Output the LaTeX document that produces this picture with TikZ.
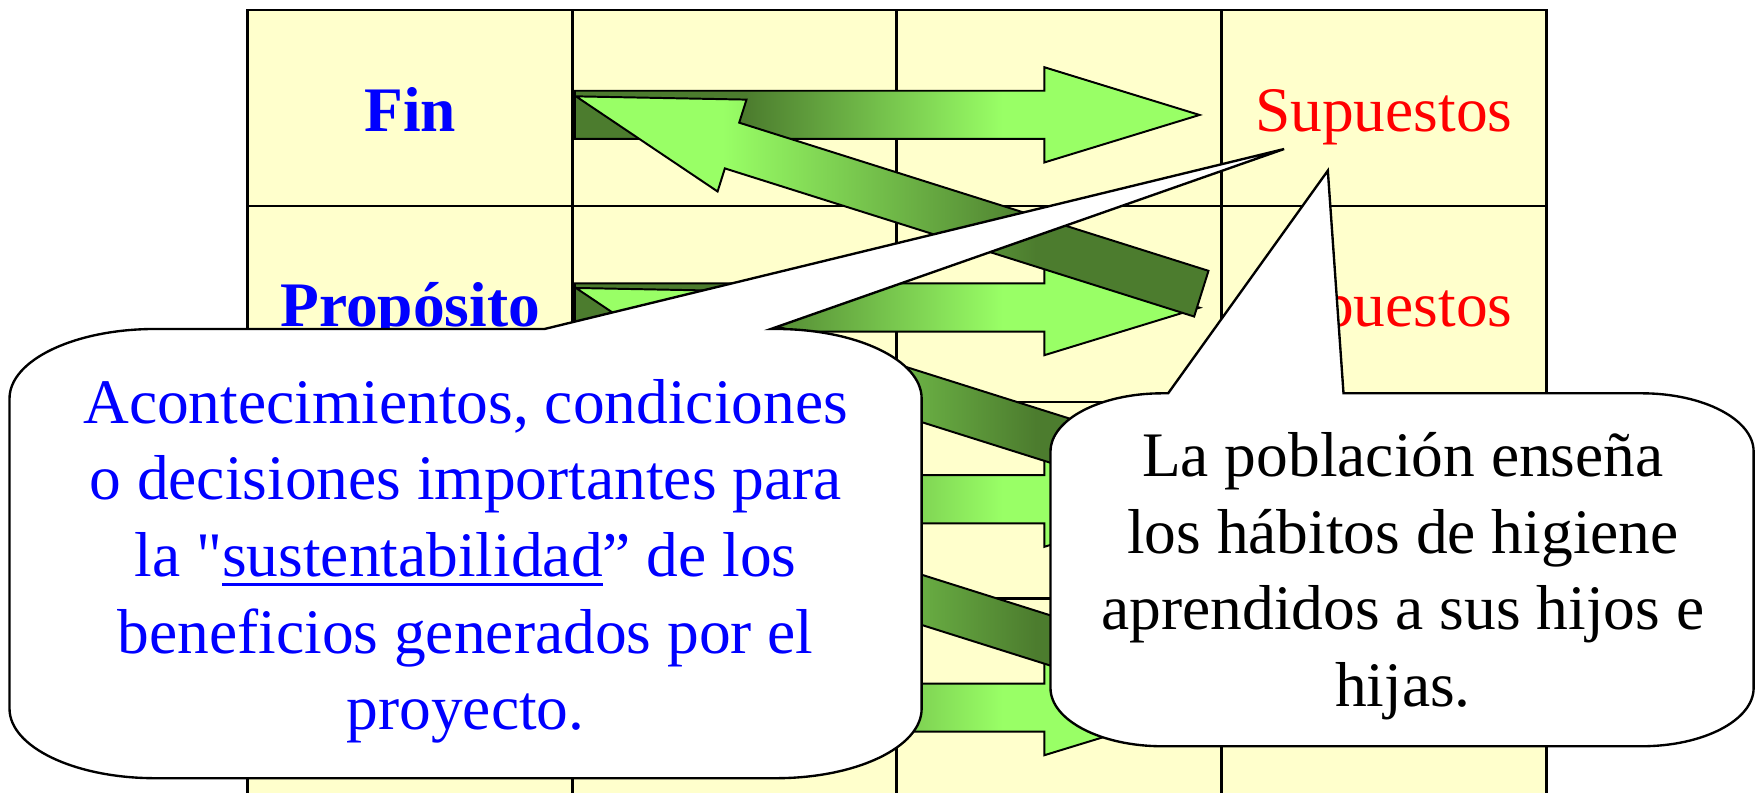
\documentclass[tikz,border=0pt]{standalone}
\usepackage{fontspec}
\setmainfont{Liberation Serif}[Ligatures=TeXOff]
\definecolor{cellfill}{HTML}{FFFFCC}
\definecolor{dkg}{RGB}{76,124,46}
\definecolor{ltg}{HTML}{99FF66}
\definecolor{txtblue}{HTML}{0000FF}
\definecolor{txtred}{HTML}{FF0000}
\newcommand\ulinebox[1]{\setbox0\hbox{#1}\rlap{\rule[-2.5pt]{\wd0}{0.85pt}}\box0}
\newcommand\harrowpath{(513,81) -- (932,81) -- (932,60) -- (1070.5,102.6) -- (932,145) -- (932,124) -- (513,124) -- cycle}
\newcommand\darrowpath{(514,86) -- (666.2,88.9) -- (659.7,109.5) -- (1078.5,241.7) -- (1065.7,282.5) -- (646.9,150.3) -- (640.4,170.9) -- cycle}
\newcommand\harrow[1]{%
  \begin{scope}[shift={(0,#1)}]
    \begin{scope}
      \clip \harrowpath;
      \fill[dkg] (500,50) rectangle (666,160);
      \shade[left color=dkg,right color=ltg] (665,50) rectangle (895,160);
      \fill[ltg] (894,50) rectangle (1090,160);
    \end{scope}
    \draw[outl] \harrowpath;
  \end{scope}}
\newcommand\darrow[1]{%
  \begin{scope}[shift={(0,#1)}]
    \begin{scope}
      \clip \darrowpath;
      \fill[ltg] (500,70) rectangle (646,300);
      \shade[left color=ltg,right color=dkg] (645,70) rectangle (925,300);
      \fill[dkg] (924,70) rectangle (1090,300);
    \end{scope}
    \draw[outl] \darrowpath;
  \end{scope}}
\begin{document}
\begin{tikzpicture}[x=0.01cm,y=-0.01cm,
  outl/.style={draw=black,line width=0.5pt,line join=miter},
  gridline/.style={draw=black,line width=0.6pt},
  celltext/.style={font=\fontsize{16.1}{19.45}\selectfont,anchor=base,inner sep=0pt},
  callout/.style={draw=black,fill=white,line width=0.6pt,line join=miter},
  callouttext/.style={font=\fontsize{16.1}{19.45}\selectfont,anchor=base,inner sep=0pt}]
\useasboundingbox (0,0) rectangle (1568,707);
\clip (0,0) rectangle (1568,707);
% table
\fill[cellfill] (221,9) rectangle (1380,730);
\draw[gridline] (221,730) -- (221,9) -- (1380,9) -- (1380,730);
\foreach \cx in {511,800,1090} {\draw[gridline] (\cx,9) -- (\cx,730);}
\foreach \ry in {184,358.5,534} {\draw[gridline] (221,\ry) -- (1380,\ry);}
% row labels
\node[celltext,text=txtblue,font=\fontsize{16.1}{19.45}\selectfont\bfseries] (fin) at (366,117.5) {Fin};
\node[celltext,text=txtblue,font=\fontsize{16.1}{19.45}\selectfont\bfseries] (proposito) at (366,291.5) {Propósito};
\node[celltext,text=txtred] (sup1) at (1235,117.5) {Supuestos};
\node[celltext,text=txtred] (sup2) at (1235,291.5) {Supuestos};
% arrows
\harrow{0}
\harrow{172}
\harrow{343}
\harrow{529}
\darrow{0}
\darrow{171}
\darrow{352}
% left callout
\draw[callout] (486,293.6) -- (1146,133) -- (688,293.6) -- (692.5,293.6)
  .. controls (764.3,293.6) and (822.5,321.4) .. (822.5,355.6) -- (822.5,632.5)
  .. controls (822.5,666.7) and (764.3,694.5) .. (692.5,694.5) -- (138.5,694.5)
  .. controls (66.7,694.5) and (8.5,666.7) .. (8.5,632.5) -- (8.5,355.6)
  .. controls (8.5,321.4) and (66.7,293.6) .. (138.5,293.6) -- cycle;
% right callout
\draw[callout] (1042.5,351) -- (1185,152.3) -- (1199,351) -- (1465,351)
  .. controls (1520.2,351) and (1565,374.3) .. (1565,403) -- (1565,614)
  .. controls (1565,642.7) and (1520.2,666) .. (1465,666) -- (1037.5,666)
  .. controls (982.3,666) and (937.5,642.7) .. (937.5,614) -- (937.5,403)
  .. controls (937.5,374.3) and (982.3,351) .. (1037.5,351) -- cycle;
% callout texts
\node[callouttext,text=txtblue] (lefttext) at (415.5,377.8) {\begin{tabular}[t]{@{}c@{}}Acontecimientos, condiciones\\ o decisiones importantes para\\ la "\ulinebox{sustentabilidad}” de los\\ beneficios generados por el\\ proyecto.\end{tabular}};
\node[callouttext,text=black] (righttext) at (1252,425.4) {\begin{tabular}[t]{@{}c@{}}La población enseña\\ los hábitos de higiene\\ aprendidos a sus hijos e\\ hijas.\end{tabular}};
\end{tikzpicture}
\end{document}
